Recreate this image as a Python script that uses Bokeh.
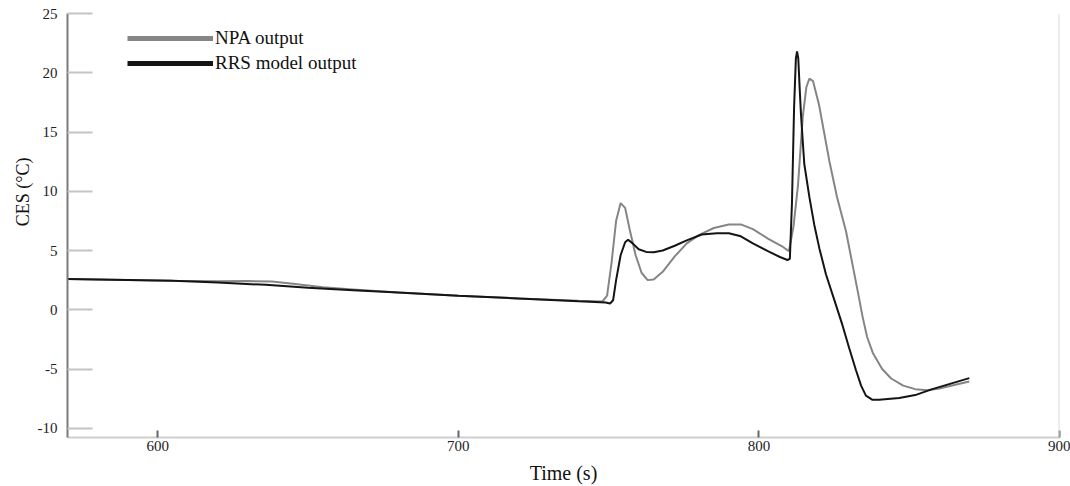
import math
from bokeh.plotting import figure
from bokeh.models import (Range1d, FixedTicker, Span, Title, Legend, LegendItem)
from bokeh.embed import file_html
from bokeh.resources import INLINE

# ---------------- data ----------------
npa_t = [570, 590, 605, 620, 630, 638, 645, 655, 665, 680, 700, 720, 740, 748,
         749.5, 751, 752.5, 754, 755.5, 757, 759, 761, 763, 765, 768, 772, 776,
         780, 785, 790, 794, 798, 803, 808, 810, 811.5, 813, 814.6, 815.8, 816.8,
         818, 820, 823.4, 826, 829, 831, 833, 834.5, 836, 838, 841, 844, 848,
         852, 856, 860, 865, 870]
npa_y = [2.6, 2.52, 2.45, 2.4, 2.42, 2.38, 2.2, 1.9, 1.72, 1.45, 1.18, 0.95, 0.75, 0.70,
         1.2, 4.0, 7.5, 9.0, 8.6, 6.8, 4.6, 3.1, 2.5, 2.55, 3.2, 4.5, 5.6,
         6.3, 6.9, 7.2, 7.2, 6.8, 6.0, 5.3, 4.95, 7.0, 10.5, 16.3, 18.8, 19.5,
         19.3, 17.3, 12.6, 9.5, 6.6, 4.0, 1.4, -0.6, -2.3, -3.7, -5.0, -5.8, -6.4,
         -6.7, -6.8, -6.65, -6.35, -6.05]

rrs_t = [570, 590, 605, 620, 636, 650, 665, 680, 700, 720, 740, 749, 750.5, 751.5,
         752.5, 754, 755.5, 756.5, 758, 760, 762.5, 765, 768, 772, 776, 781, 786,
         790, 794, 798, 803, 807, 809.5, 810.3, 811, 811.7, 812.3, 812.7, 813.1,
         813.6, 814, 815.1, 816.8, 818.4, 820.1, 822.3, 825, 827.8, 830, 832.3,
         834, 835.6, 837.8, 840, 846.7, 852, 857.7, 863, 870]
rrs_y = [2.6, 2.52, 2.45, 2.3, 2.1, 1.85, 1.65, 1.45, 1.18, 0.95, 0.72, 0.62, 0.53, 0.8,
         2.5, 4.6, 5.7, 5.9, 5.6, 5.1, 4.88, 4.85, 5.0, 5.4, 5.85, 6.35, 6.45,
         6.45, 6.2, 5.6, 4.95, 4.45, 4.2, 4.3, 9.0, 17.0, 21.2, 21.8, 21.2,
         18.5, 16.5, 12.3, 9.5, 7.2, 5.2, 3.0, 0.9, -1.3, -3.2, -5.1,
         -6.4, -7.25, -7.6, -7.6, -7.45, -7.2, -6.7, -6.3, -5.77]

x_ticks = [600, 700, 800, 900]
y_ticks = [-10, -5, 0, 5, 10, 15, 20, 25]
y_tick_labels = ["-10", "-5", "0", "5", "10", "15", "20", "25"]
series_names = ["NPA output", "RRS model output"]
series_colors = ["#858585", "#141414"]

FONT = "Liberation Serif"

p = figure(width=1070, height=486, output_backend="svg", toolbar_location=None,
           x_range=Range1d(570, 900), y_range=Range1d(-10.78, 25),
           min_border_left=67, min_border_right=11, min_border_top=13,
           min_border_bottom=49)
p.outline_line_color = None
p.xgrid.visible = False
p.ygrid.visible = False
p.background_fill_color = "white"
p.border_fill_color = "white"

# x axis
xa = p.xaxis[0]
xa.ticker = FixedTicker(ticks=x_ticks)
xa.axis_line_color = "#cfcfcf"
xa.axis_line_width = 2
xa.major_tick_in = 7
xa.major_tick_out = 0
xa.major_tick_line_color = "#666666"
xa.major_tick_line_width = 2
xa.minor_tick_line_color = None
xa.major_label_text_font = FONT
xa.major_label_text_font_size = "15px"
xa.major_label_text_color = "#222222"
xa.major_label_standoff = 3
xa.axis_label = "Time (s)"
xa.axis_label_text_font = FONT
xa.axis_label_text_font_size = "20px"
xa.axis_label_text_font_style = "normal"
xa.axis_label_text_color = "#111111"
xa.axis_label_standoff = 8

# y axis
ya = p.yaxis[0]
ya.ticker = FixedTicker(ticks=y_ticks)
ya.major_label_overrides = {t: s for t, s in zip(y_ticks, y_tick_labels)}
ya.axis_line_color = "#7a7a7a"
ya.axis_line_width = 2
ya.major_tick_in = 25
ya.major_tick_out = 0
ya.major_tick_line_color = "#c4c4c4"
ya.major_tick_line_width = 2
ya.minor_tick_line_color = None
ya.major_label_text_font = FONT
ya.major_label_text_font_size = "15px"
ya.major_label_text_color = "#222222"
ya.major_label_standoff = 10

# y-axis title (placed higher than centre, like the reference)
p.add_layout(Title(text="CES (°C)", align="right", offset=144,
                   text_font=FONT, text_font_size="18px", text_font_style="normal",
                   text_color="#111111", standoff=4), "left")

# right border line
p.add_layout(Span(location=900, dimension="height", line_color="#dcdcdc", line_width=2))

# series
p.line(npa_t, npa_y, line_color=series_colors[0], line_width=2)
p.line(rrs_t, rrs_y, line_color=series_colors[1], line_width=2)

# legend with thick glyphs (proxy renderers that draw nothing in the plot)
nan = float("nan")
r1 = p.line(x=[nan], y=[nan], line_color=series_colors[0], line_width=5)
r2 = p.line(x=[nan], y=[nan], line_color=series_colors[1], line_width=5)
leg = Legend(items=[LegendItem(label=series_names[0], renderers=[r1]),
                    LegendItem(label=series_names[1], renderers=[r2])],
             location=(60, 362.7), glyph_width=86, glyph_height=20,
             label_height=20, spacing=3, label_standoff=2, padding=0, margin=0,
             border_line_color=None, background_fill_alpha=0,
             label_text_font=FONT, label_text_font_size="19px",
             label_text_color="#111111")
p.add_layout(leg, "center")

open("out.html", "w").write(file_html(p, INLINE))
